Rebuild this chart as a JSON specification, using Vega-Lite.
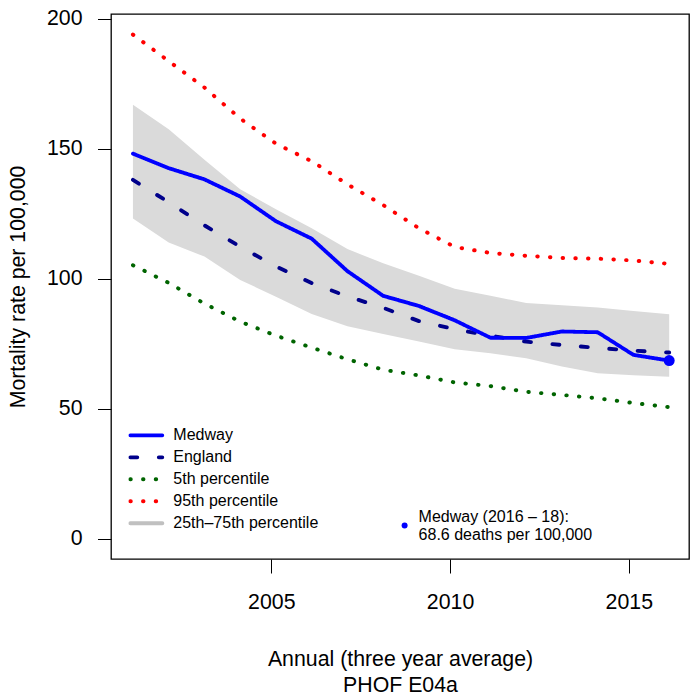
{
  "$schema": "https://vega.github.io/schema/vega-lite/v6.json",
  "width": 578,
  "height": 545,
  "autosize": {"type": "none"},
  "padding": {"left": 111, "top": 14, "right": 1, "bottom": 136},
  "background": "#ffffff",
  "config": {
    "view": {"stroke": "#000000", "strokeWidth": 1.3},
    "font": "Liberation Sans",
    "axis": {
      "labelFont": "Liberation Sans",
      "titleFont": "Liberation Sans",
      "labelColor": "#000000",
      "titleColor": "#000000",
      "tickColor": "#000000",
      "domain": false,
      "grid": false,
      "labelFontSize": 21.3,
      "titleFontSize": 21.3,
      "titleFontWeight": "normal",
      "tickSize": 13.5,
      "tickWidth": 1
    }
  },
  "datasets": {
    "series": [
      {"x": 2001.13, "Medway": 148.2, "England": 138.1, "5th percentile": 105.3, "95th percentile": 194.0, "p25": 123.3, "p75": 167.0},
      {"x": 2002.13, "Medway": 142.6, "England": 129.5, "5th percentile": 98.5, "95th percentile": 183.8, "p25": 114.0, "p75": 157.6},
      {"x": 2003.13, "Medway": 138.3, "England": 120.6, "5th percentile": 90.5, "95th percentile": 173.6, "p25": 108.6, "p75": 145.8},
      {"x": 2004.13, "Medway": 131.7, "England": 112.4, "5th percentile": 83.6, "95th percentile": 161.7, "p25": 99.6, "p75": 134.5},
      {"x": 2005.13, "Medway": 122.2, "England": 104.8, "5th percentile": 78.2, "95th percentile": 152.0, "p25": 93.2, "p75": 126.8},
      {"x": 2006.13, "Medway": 115.5, "England": 98.4, "5th percentile": 73.6, "95th percentile": 145.3, "p25": 86.5, "p75": 119.5},
      {"x": 2007.13, "Medway": 103.0, "England": 93.3, "5th percentile": 69.1, "95th percentile": 136.4, "p25": 81.8, "p75": 111.5},
      {"x": 2008.13, "Medway": 93.5, "England": 88.9, "5th percentile": 65.1, "95th percentile": 128.4, "p25": 78.8, "p75": 106.0},
      {"x": 2009.13, "Medway": 89.6, "England": 83.8, "5th percentile": 62.9, "95th percentile": 119.5, "p25": 75.9, "p75": 101.2},
      {"x": 2010.13, "Medway": 84.1, "England": 80.7, "5th percentile": 60.2, "95th percentile": 112.3, "p25": 73.0, "p75": 96.2},
      {"x": 2011.13, "Medway": 77.4, "England": 78.2, "5th percentile": 58.8, "95th percentile": 110.0, "p25": 71.4, "p75": 93.5},
      {"x": 2012.13, "Medway": 77.3, "England": 75.9, "5th percentile": 56.6, "95th percentile": 108.9, "p25": 69.5, "p75": 90.8},
      {"x": 2013.13, "Medway": 79.8, "England": 74.6, "5th percentile": 55.4, "95th percentile": 108.1, "p25": 66.3, "p75": 89.9},
      {"x": 2014.13, "Medway": 79.5, "England": 73.5, "5th percentile": 54.1, "95th percentile": 107.8, "p25": 63.7, "p75": 89.0},
      {"x": 2015.13, "Medway": 70.8, "England": 72.4, "5th percentile": 52.3, "95th percentile": 107.1, "p25": 63.0, "p75": 87.7},
      {"x": 2016.13, "Medway": 68.6, "England": 71.7, "5th percentile": 50.7, "95th percentile": 105.8, "p25": 62.4, "p75": 86.4}
    ],
    "latest": [
      {"x": 2016.13, "value": 68.6, "note": "Medway (2016 – 18)"}
    ]
  },
  "layer": [
    {
      "data": {"name": "series"},
      "mark": {"type": "area", "color": "#DADADA", "opacity": 1},
      "encoding": {
        "x": {
          "field": "x",
          "type": "quantitative",
          "title": ["Annual (three year average)", "PHOF E04a"],
          "scale": {"domain": [2000.516, 2016.684], "nice": false, "zero": false},
          "axis": {
            "values": [2005, 2010, 2015],
            "format": "d",
            "tickSize": 14,
            "labelPadding": 18.7,
            "labelFlush": false,
            "titleBaseline": "alphabetic",
            "titleY": 106,
            "titleLineHeight": 26
          }
        },
        "y": {
          "field": "p75",
          "type": "quantitative",
          "title": "Mortality rate per 100,000",
          "scale": {"domain": [-7.7, 201.9], "nice": false, "zero": false},
          "axis": {
            "values": [0, 50, 100, 150, 200],
            "labelPadding": 15.5,
            "labelAngle": 0,
            "titleX": -87,
            "titleBaseline": "alphabetic"
          }
        },
        "y2": {"field": "p25"}
      }
    },
    {
      "data": {"name": "series"},
      "transform": [
        {"fold": ["5th percentile", "95th percentile", "England", "Medway"], "as": ["series", "value"]}
      ],
      "mark": {"type": "line", "strokeCap": "round", "strokeJoin": "round"},
      "encoding": {
        "x": {"field": "x", "type": "quantitative", "title": ["Annual (three year average)", "PHOF E04a"]},
        "y": {"field": "value", "type": "quantitative", "title": "Mortality rate per 100,000"},
        "color": {
          "field": "series",
          "type": "nominal",
          "scale": {
            "domain": ["Medway", "England", "5th percentile", "95th percentile", "25th–75th percentile"],
            "range": ["#0000FF", "#00008B", "#006400", "#FF0000", "#C0C0C0"]
          },
          "legend": {
            "title": null, "orient": "none", "legendX": 17.3, "legendY": 410.5,
            "symbolType": "stroke", "symbolSize": 1024,
            "labelFontSize": 16, "labelFont": "Liberation Sans", "labelColor": "#000000",
            "labelOffset": 9, "clipHeight": 21.6, "rowPadding": 0, "padding": 0, "labelLimit": 400,
            "encode": {"symbols": {"update": {"strokeCap": {"value": "round"}}}}
          }
        },
        "strokeDash": {
          "field": "series",
          "type": "nominal",
          "scale": {
            "domain": ["Medway", "England", "5th percentile", "95th percentile", "25th–75th percentile"],
            "range": [[1, 0], [7, 21.5], [0.5, 12.2], [0.5, 12.2], [1, 0]]
          },
          "legend": {
            "title": null, "orient": "none", "legendX": 17.3, "legendY": 410.5,
            "symbolType": "stroke", "symbolSize": 1024,
            "labelFontSize": 16, "labelFont": "Liberation Sans", "labelColor": "#000000",
            "labelOffset": 9, "clipHeight": 21.6, "rowPadding": 0, "padding": 0, "labelLimit": 400,
            "encode": {"symbols": {"update": {"strokeCap": {"value": "round"}}}}
          }
        },
        "strokeWidth": {
          "field": "series",
          "type": "nominal",
          "scale": {
            "domain": ["Medway", "England", "5th percentile", "95th percentile", "25th–75th percentile"],
            "range": [3.8, 4, 2.7, 2.7, 8.3]
          },
          "legend": {
            "title": null, "orient": "none", "legendX": 17.3, "legendY": 410.5,
            "symbolType": "stroke", "symbolSize": 1024,
            "labelFontSize": 16, "labelFont": "Liberation Sans", "labelColor": "#000000",
            "labelOffset": 9, "clipHeight": 21.6, "rowPadding": 0, "padding": 0, "labelLimit": 400,
            "encode": {"symbols": {"update": {"strokeCap": {"value": "round"}}}}
          }
        }
      }
    },
    {
      "data": {"name": "latest"},
      "mark": {"type": "circle", "size": 121, "opacity": 1, "strokeWidth": 0},
      "encoding": {
        "x": {"field": "x", "type": "quantitative", "title": ["Annual (three year average)", "PHOF E04a"]},
        "y": {"field": "value", "type": "quantitative", "title": "Mortality rate per 100,000"},
        "fill": {
          "field": "note",
          "type": "nominal",
          "scale": {"range": ["#0000FF"]},
          "legend": {
            "title": null, "orient": "none", "legendX": 285.6, "legendY": 501.6,
            "symbolType": "circle", "symbolSize": 36, "symbolStrokeWidth": 0,
            "labelFontSize": 16, "labelFont": "Liberation Sans", "labelColor": "#000000",
            "labelOffset": 6, "clipHeight": 20, "padding": 0, "labelLimit": 400,
            "labelBaseline": "line-bottom",
            "labelExpr": "['Medway (2016 – 18):', '68.6 deaths per 100,000']",
            "encode": {"symbols": {"update": {"size": {"value": 36}}}}
          }
        }
      }
    }
  ]
}
